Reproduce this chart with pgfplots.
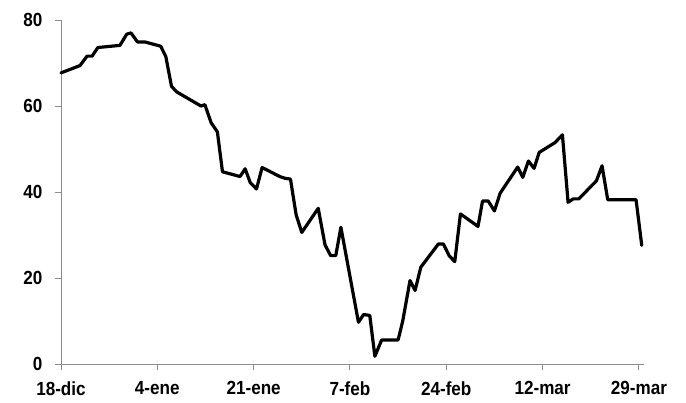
\documentclass[border=0pt]{standalone}
\usepackage{pgfplots}
\pgfplotsset{compat=1.18}
\usepackage{fontspec}
\setmainfont{Liberation Sans}
\newfontfamily\lab{Liberation Sans Bold}[FakeStretch=0.9]
\definecolor{axgray}{HTML}{8C8C8C}
\begin{document}
\begin{tikzpicture}[x=1pt,y=1pt]
\path[use as bounding box] (0,0) rectangle (686,402);
\begin{axis}[
  at={(61pt,38pt)}, anchor=south west,
  scale only axis, width=583pt, height=344pt,
  xmin=0, xmax=102.9, ymin=0, ymax=80,
  axis x line=bottom, axis y line=left,
  axis line style={-, draw=axgray, line width=1pt},
  tick style={draw=axgray, line width=1pt},
  tick align=outside, major tick length=6pt,
  xtick={0,17,34,51,68,85,102},
  xticklabels={18-dic,4-ene,21-ene,7-feb,24-feb,12-mar,29-mar},
  ytick={0,20,40,60,80},
  /pgf/number format/assume math mode=true,
  ticklabel style={font=\fontsize{19}{22}\lab},
  yticklabel style={anchor=east, xshift=-9pt},
  xticklabel style={anchor=north, yshift=-8pt},
  clip=false,
]
\addplot[black, line width=3.2pt, line join=round, line cap=round] coordinates {
(0,67.7) (3.35,69.4) (4.6,71.6) (5.5,71.6) (6.5,73.6) (10.4,74.1) (11.6,76.7)
(12.35,77.0) (13.5,74.9) (14.8,74.9) (17.6,73.9) (18.5,71.5) (19.5,64.6)
(20.4,63.3) (24.7,60.0) (25.4,60.3) (26.5,56.1) (27.6,54.0) (28.5,44.7)
(31.6,43.6) (32.5,45.4) (33.4,42.2) (34.5,40.7) (35.5,45.7) (38.6,43.6)
(39.5,43.2) (40.5,43.0) (41.5,34.7) (42.5,30.6) (45.4,36.2) (46.6,27.7)
(47.6,25.2) (48.5,25.2) (49.4,31.8) (52.5,9.7) (53.4,11.5) (54.5,11.3)
(55.4,1.8) (56.6,5.6) (59.5,5.6) (60.3,9.9) (61.6,19.4) (62.5,17.1)
(63.5,22.5) (66.6,27.9) (67.5,27.9) (68.5,25.2) (69.5,23.8) (70.5,34.9)
(73.6,32.0) (74.4,37.9) (75.4,37.9) (76.5,35.6) (77.5,39.7) (80.6,45.8)
(81.5,43.4) (82.5,47.2) (83.5,45.5) (84.4,49.2) (87.2,51.5) (88.5,53.3)
(89.5,37.6) (90.4,38.4) (91.4,38.4) (94.5,42.6) (95.5,46.1) (96.5,38.2)
(101.5,38.2) (102.5,27.6)
};
\end{axis}
\end{tikzpicture}
\end{document}
